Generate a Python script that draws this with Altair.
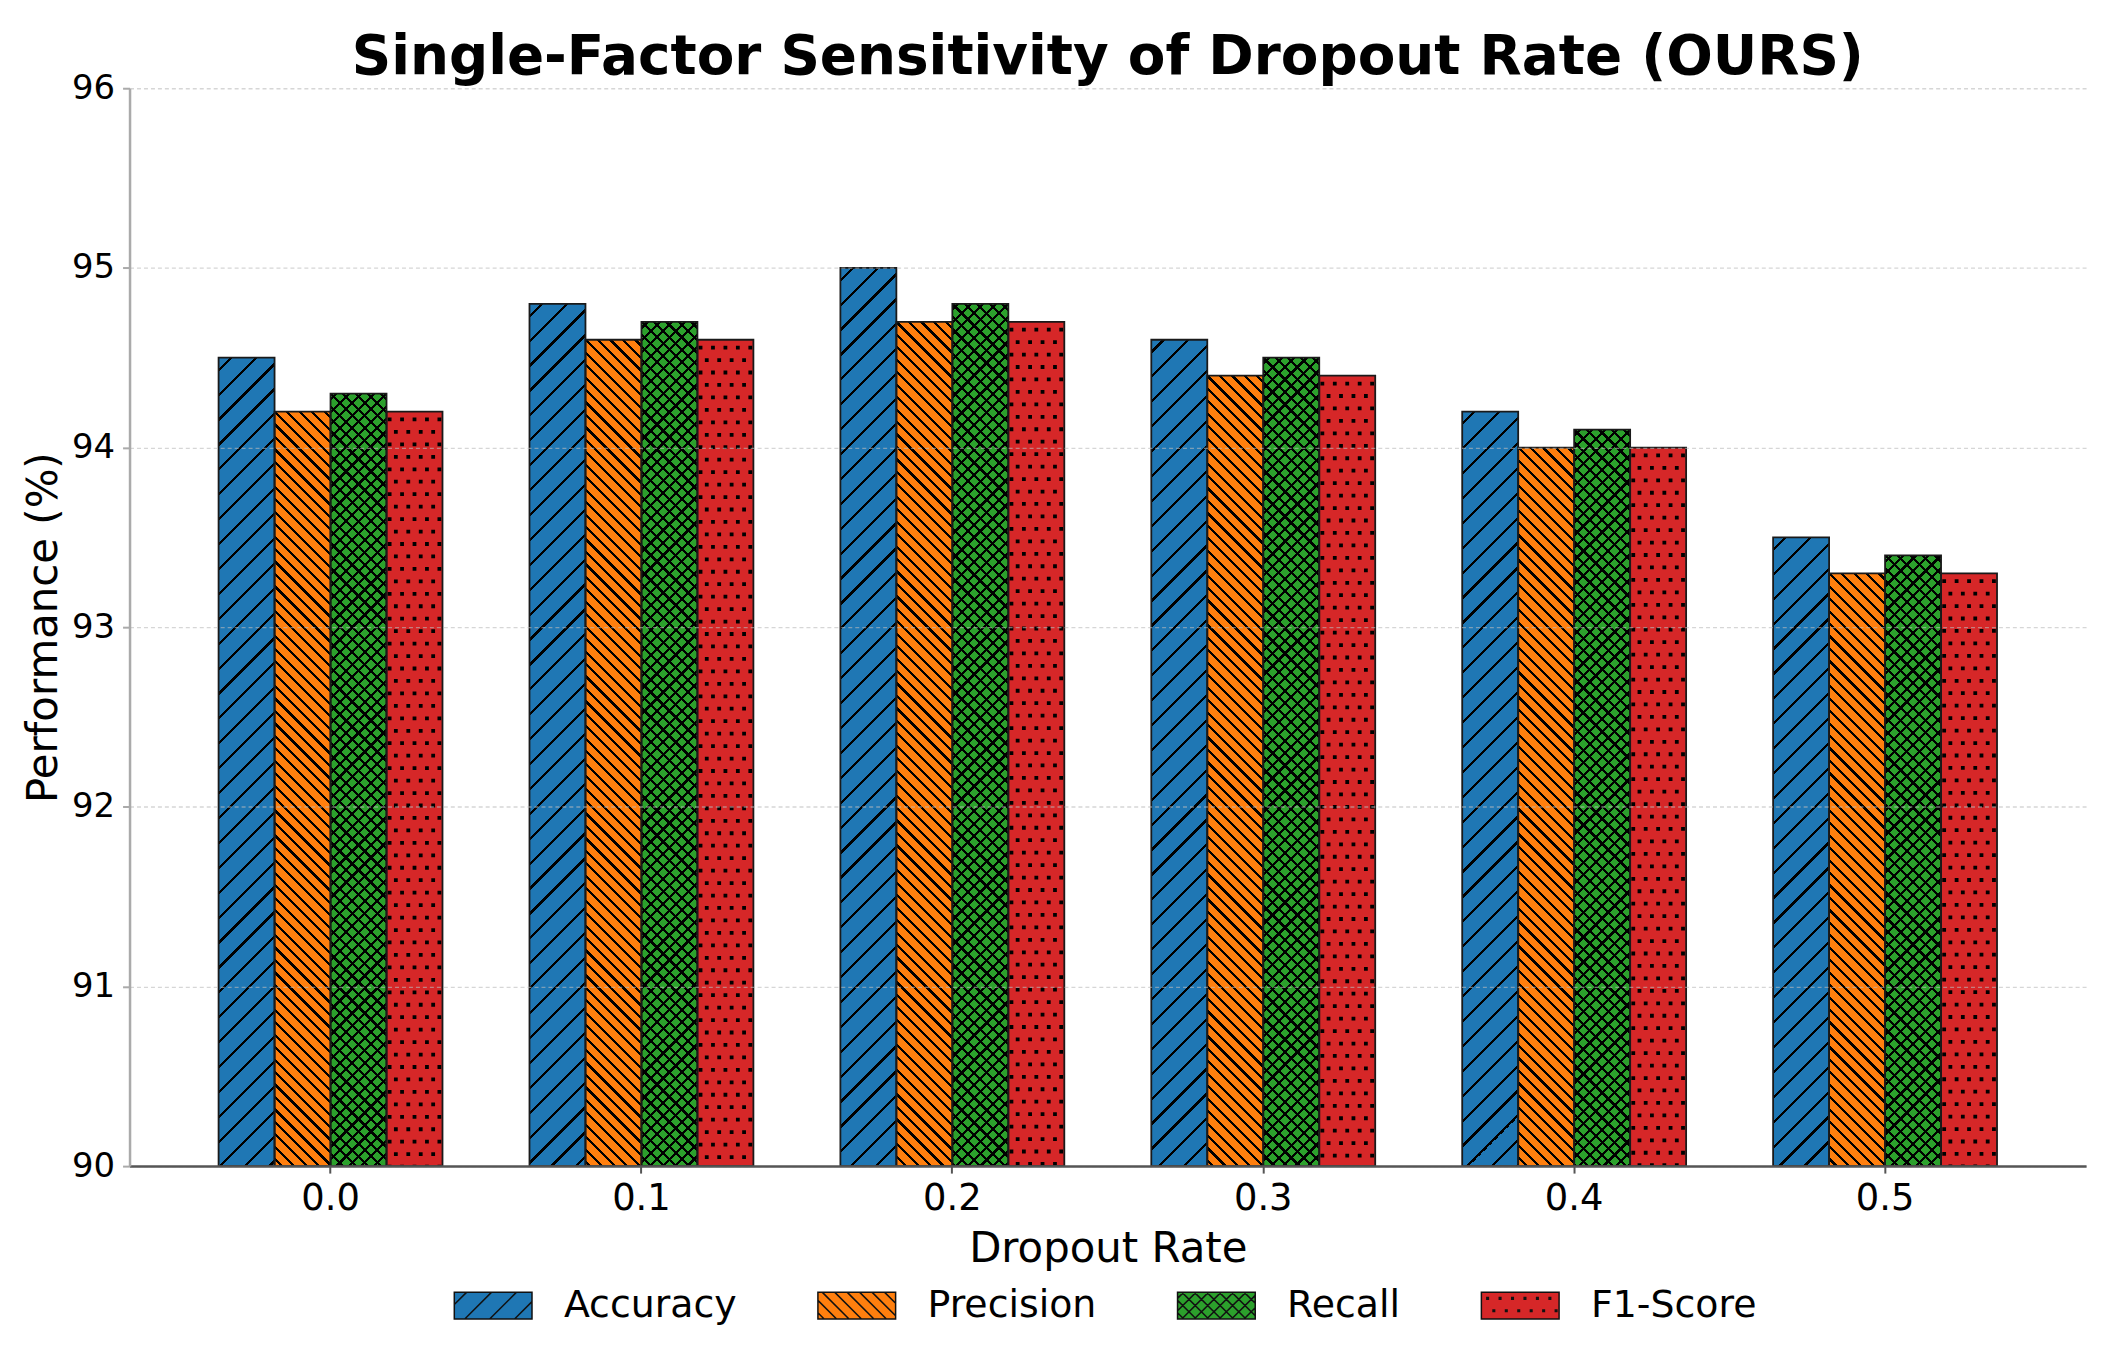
import altair as alt
import pandas as pd

# ---------------- data ----------------
dropout = ["0.0", "0.1", "0.2", "0.3", "0.4", "0.5"]
series = ["Accuracy", "Precision", "Recall", "F1-Score"]
accuracy = [94.5, 94.8, 95.0, 94.6, 94.2, 93.5]
precision = [94.2, 94.6, 94.7, 94.4, 94.0, 93.3]
recall = [94.3, 94.7, 94.8, 94.5, 94.1, 93.4]
f1_score = [94.2, 94.6, 94.7, 94.4, 94.0, 93.3]
colors = ["#1f77b4", "#ff7f0e", "#2ca02c", "#d62728"]
y_ticks = [90, 91, 92, 93, 94, 95, 96]

values = {"Accuracy": accuracy, "Precision": precision, "Recall": recall, "F1-Score": f1_score}
rows = []
for i, d in enumerate(dropout):
    for s in series:
        rows.append({"dropout": d, "series": s, "value": values[s][i]})
df = pd.DataFrame(rows)

# ---------------- layout / style ----------------
PLOT_W, PLOT_H = 1964, 1082
Y_MIN, Y_MAX = 90, 96
X_PO = 0.1465          # outer padding of dropout bands
OFF_PO = 0.777         # outer padding of series sub-bands
step = PLOT_W / (len(dropout) + 2 * X_PO)
bar_w = step / (len(series) + 2 * OFF_PO)
px_per_unit = PLOT_H / (Y_MAX - Y_MIN)

T = "rgba(0,0,0,0)"
K = "#000000"
LINE_D = 3.2           # hatch line thickness measured along x+y
HATCH = {
    "Accuracy": [("/", 25.0)],
    "Precision": [("\\", 12.5)],
    "Recall": [("/", 12.5), ("\\", 12.5)],
    "F1-Score": [],
}
DOT_S = 12.5
DOT = 3.8


def stripe_stops(L, p, d, phase):
    out = [(0.0, T)]
    c = phase
    while c - d / 2 < L:
        a = max(c - d / 2, 0.0) / L
        b = min(c + d / 2, L) / L
        if b > a:
            out += [(a, T), (a, K), (b, K), (b, T)]
        c += p
    out.append((1.0, T))
    res, last = [], 0.0
    for o, col in out:
        o = max(last, round(o, 6))
        last = o
        res.append({"offset": o, "color": col})
    return res


def hatch_gradient(w, h, direction, p):
    k = (w + h) / (w * w + h * h)
    stops = stripe_stops(w + h, p, LINE_D, p / 2)
    if direction == "/":
        return {"gradient": "linear", "x1": 0, "y1": 0, "x2": w * k, "y2": h * k, "stops": stops}
    return {"gradient": "linear", "x1": 1, "y1": 0, "x2": 1 - w * k, "y2": h * k, "stops": stops}


# legend symbol paths (rectangle + hatch drawn by the symbol stroke)
SYM = 78.0
A = 0.346
ku = SYM / 2


def legend_path(name):
    parts = [f"M-1,{-A}L1,{-A}L1,{A}L-1,{A}Z"]
    for direction, p in HATCH[name]:
        pu = p / ku
        c = -1 - A + pu / 2
        while c < 1 + A:
            x0 = max(-1, c - A)
            x1 = min(1, c + A)
            if x1 - x0 > 1e-3:
                if direction == "/":
                    parts.append(f"M{x0:.4f},{c - x0:.4f}L{x1:.4f},{c - x1:.4f}")
                else:
                    parts.append(f"M{x0:.4f},{x0 - c:.4f}L{x1:.4f},{x1 - c:.4f}")
            c += pu
    if name == "F1-Score":
        su = DOT_S / ku
        r = 0.02
        row = 0
        y = -A + su / 2
        while y < A:
            x = -1 + (su / 2 if row % 2 == 0 else su)
            while x < 1 - 0.02:
                parts.append(f"M{x - r:.4f},{y - r:.4f}h{2 * r}v{2 * r}h{-2 * r}Z")
                x += su
            y += su
            row += 1
    return "".join(parts)


sym_paths = [legend_path(s) for s in series]

# ---------------- encodings ----------------
x_axis = alt.Axis(
    title="Dropout Rate", labelAngle=0, labelFontSize=37, titleFontSize=42,
    titleFontWeight="normal", domainColor="#555555", domainWidth=2.5,
    tickColor="#555555", tickSize=7, tickWidth=2, grid=False,
    labelPadding=8, titlePadding=12, zindex=1,
)
y_axis = alt.Axis(
    values=y_ticks, format="d", title="Performance (%)", titleFontSize=42,
    titleFontWeight="normal", labelFontSize=34, grid=True, gridDash=[4, 3],
    gridColor="#bbbbbb", gridOpacity=0.6, gridWidth=1.3,
    domainColor="#aaaaaa", domainWidth=2.5, tickColor="#aaaaaa", tickSize=7,
    tickWidth=2, labelPadding=8, titlePadding=6, zindex=1,
)
x_enc = alt.X(
    "dropout:N",
    scale=alt.Scale(domain=dropout, paddingInner=0, paddingOuter=X_PO, round=False),
    axis=x_axis,
)
xoff_enc = alt.XOffset(
    "series:N",
    scale=alt.Scale(domain=series, paddingInner=0, paddingOuter=OFF_PO, round=False),
)
y_enc = alt.Y(
    "value:Q",
    scale=alt.Scale(domain=[Y_MIN, Y_MAX], nice=False, zero=False),
    axis=y_axis,
)
fill_scale = alt.Scale(domain=series, range=colors)

layers = []

# solid bars
layers.append(
    alt.Chart(df).mark_bar().encode(
        x=x_enc, xOffset=xoff_enc, y=y_enc, y2=alt.datum(Y_MIN),
        fill=alt.Fill("series:N", scale=fill_scale, legend=None),
    )
)

# hatch overlays (one per bar and direction)
for i, d in enumerate(dropout):
    for s in series:
        h = (values[s][i] - Y_MIN) * px_per_unit
        for direction, p in HATCH[s]:
            grad = hatch_gradient(bar_w, h, direction, p)
            layers.append(
                alt.Chart(df)
                .transform_filter(f"datum.dropout == '{d}' && datum.series == '{s}'")
                .mark_bar(fill=grad, strokeWidth=0)
                .encode(x=x_enc, xOffset=xoff_enc, y=y_enc, y2=alt.datum(Y_MIN))
            )

# dotted pattern for F1-Score: 9 dot columns inside the F1 sub-band
n_slots = 9
f1_start = (step - len(series) * bar_w) / 2 + 3 * bar_w
dot_xoff = alt.XOffset(
    "col:O",
    scale=alt.Scale(domain=list(range(n_slots)), paddingInner=0, paddingOuter=0,
                    range=[f1_start, f1_start + bar_w], round=False),
)
for parity, dash_off in [(0, 2 * DOT_S - 6), (1, DOT_S - 6)]:
    layers.append(
        alt.Chart(df)
        .transform_filter("datum.series == 'F1-Score'")
        .transform_calculate(col=f"sequence(0, {n_slots})")
        .transform_flatten(["col"])
        .transform_filter(f"datum.col % 2 == {parity}")
        .mark_rule(color="black", strokeWidth=DOT, strokeDash=[DOT, 2 * DOT_S - DOT],
                   strokeDashOffset=dash_off, strokeCap="butt")
        .encode(x=x_enc, xOffset=dot_xoff, y=y_enc, y2=alt.datum(Y_MIN))
    )

# outlines
layers.append(
    alt.Chart(df).mark_bar(fill="transparent", stroke="#1a1a1a", strokeWidth=1.8).encode(
        x=x_enc, xOffset=xoff_enc, y=y_enc, y2=alt.datum(Y_MIN),
    )
)

# legend carrier (clipped, invisible points)
legend = alt.Legend(
    orient="none", legendX=325, legendY=1182, direction="horizontal", columns=4,
    columnPadding=78, labelOffset=31, labelFontSize=38, labelFont="DejaVu Sans",
    labelColor="black", symbolSize=SYM * SYM, symbolStrokeWidth=1.5,
    symbolStrokeColor="black", symbolOpacity=1, padding=0, title=None,
    gridAlign="each", labelLimit=0,
)
layers.append(
    alt.Chart(df)
    .transform_calculate(ghost="80")
    .mark_point(filled=True, strokeWidth=1.5, clip=True, size=SYM * SYM, opacity=1)
    .encode(
        x=x_enc, xOffset=xoff_enc,
        y=alt.Y("ghost:Q", scale=alt.Scale(domain=[Y_MIN, Y_MAX], nice=False, zero=False),
                axis=y_axis),
        fill=alt.Fill("series:N", scale=fill_scale, legend=legend),
        stroke=alt.Stroke("series:N", scale=alt.Scale(domain=series, range=["#111111"] * 4),
                          legend=legend),
        shape=alt.Shape("series:N", scale=alt.Scale(domain=series, range=sym_paths), legend=legend),
    )
)

chart = (
    alt.layer(*layers)
    .resolve_scale(xOffset="independent", fill="independent", shape="independent",
                   stroke="independent")
    .resolve_legend(fill="independent", shape="shared", stroke="shared")
    .properties(
        width=PLOT_W, height=PLOT_H,
        autosize=alt.AutoSizeParams(type="none"),
        padding={"left": 122, "top": 78, "right": 19, "bottom": 170},
        title=alt.TitleParams(
            "Single-Factor Sensitivity of Dropout Rate (OURS)", font="DejaVu Sans",
            fontSize=55, fontWeight="bold", anchor="middle", baseline="alphabetic",
            offset=12, dy=70, color="black",
        ),
    )
    .configure_view(stroke=None)
    .configure_axis(labelFont="DejaVu Sans", titleFont="DejaVu Sans",
                    labelColor="black", titleColor="black")
)

chart.save("out.html", embed_options={"renderer": "svg", "actions": False})
